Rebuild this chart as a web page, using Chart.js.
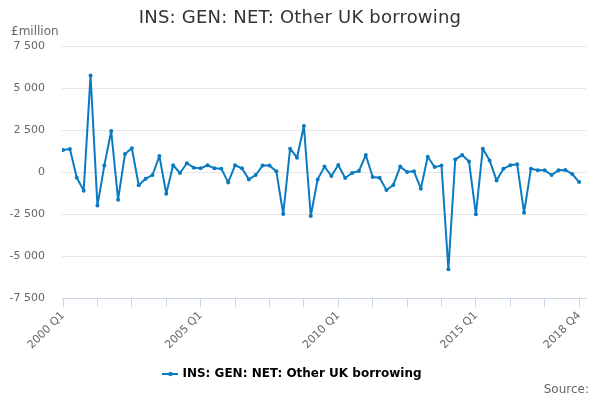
<!DOCTYPE html>
<html>
<head>
<meta charset="utf-8">
<script src="https://cdn.jsdelivr.net/npm/chart.js@4.4.1/dist/chart.umd.min.js"></script>
<style>
  html, body { margin: 0; padding: 0; background: #fff; }
</style>
</head>
<body>
<canvas id="chart" width="600" height="400"></canvas>
<script>
// quarters 2000 Q1 .. 2018 Q4
const years = [2000, 2001, 2002, 2003, 2004, 2005, 2006, 2007, 2008, 2009,
               2010, 2011, 2012, 2013, 2014, 2015, 2016, 2017, 2018];
const quarters = [];
years.forEach(y => { for (let q = 1; q <= 4; q++) quarters.push(y + ' Q' + q); });

// £million
const borrowing = [
    1310, 1370, -340, -1110,
    5750, -2000, 380, 2440,
    -1650, 1070, 1410, -790,
    -400, -180, 950, -1290,
    400, -60, 520, 260,
    220, 400, 220, 200,
    -620, 400, 220, -440,
    -180, 380, 380, 40,
    -2500, 1390, 850, 2740,
    -2620, -440, 320, -240,
    420, -360, -60, 60,
    1010, -300, -340, -1070,
    -770, 320, 0, 40,
    -990, 910, 300, 380,
    -5790, 750, 1010, 620,
    -2520, 1390, 680, -500,
    200, 400, 460, -2420,
    200, 100, 100, -180,
    100, 120, -120, -600
];

const xTickIndex = [0, 5, 10, 15, 20, 25, 30, 35, 40, 45, 50, 55, 60, 65, 70, 75];
const xLabelIndex = [0, 20, 40, 60, 75];
const yTicks = [-7500, -5000, -2500, 0, 2500, 5000, 7500];

const chartTitle = 'INS: GEN: NET: Other UK borrowing';
const lineColour = '#0a7bc2';
const fontFamily = "'DejaVu Sans', sans-serif";

function fmt(v) {
    let s = Math.abs(v).toString().replace(/\B(?=(\d{3})+(?!\d))/g, ' ');
    return (v < 0 ? '-' : '') + s;
}

// little line+dot symbol for the legend
function legendSymbol() {
    let c = document.createElement('canvas');
    c.width = 16; c.height = 8;
    let g = c.getContext('2d');
    g.strokeStyle = lineColour;
    g.lineWidth = 2;
    g.beginPath(); g.moveTo(0, 4); g.lineTo(16, 4); g.stroke();
    g.fillStyle = lineColour;
    g.beginPath(); g.arc(8, 4, 2.2, 0, Math.PI * 2); g.fill();
    return c;
}

// title, unit label and source
const extraText = {
    id: 'extraText',
    afterDraw(chart) {
        let ctx = chart.ctx;
        ctx.save();
        ctx.fillStyle = '#333';
        ctx.font = '18px ' + fontFamily;
        ctx.letterSpacing = '0.2px';
        ctx.textAlign = 'center';
        ctx.textBaseline = 'middle';
        ctx.fillText(chartTitle, 300, 18);
        ctx.letterSpacing = '0px';
        ctx.font = '12px ' + fontFamily;
        ctx.fillStyle = '#666';
        ctx.textAlign = 'left';
        ctx.fillText('£million', 11, 32);
        ctx.textAlign = 'right';
        ctx.fillText('Source:', 589, 390);
        ctx.restore();
    }
};

let ctx = document.getElementById('chart').getContext('2d');
let chart = new Chart(ctx, {
    type: 'line',
    data: {
        datasets: [{
            label: chartTitle,
            data: borrowing.map((v, i) => ({ x: i, y: v })),
            borderColor: lineColour,
            backgroundColor: lineColour,
            borderWidth: 2,
            borderJoinStyle: 'round',
            borderCapStyle: 'round',
            pointRadius: 2,
            pointBorderWidth: 0,
            pointHoverRadius: 3,
            tension: 0
        }]
    },
    options: {
        responsive: false,
        animation: false,
        layout: { padding: { left: 0, right: 14, top: 46, bottom: 10 } },
        plugins: {
            title: { display: false },
            legend: {
                position: 'bottom',
                labels: {
                    color: '#333',
                    font: { family: fontFamily, size: 12, weight: 'bold' },
                    usePointStyle: true,
                    padding: 8,
                    generateLabels: (c) => [{
                        text: c.data.datasets[0].label,
                        pointStyle: legendSymbol(),
                        fillStyle: lineColour,
                        strokeStyle: lineColour,
                        datasetIndex: 0
                    }]
                }
            },
            tooltip: { enabled: false }
        },
        scales: {
            x: {
                type: 'linear',
                min: -0.15,
                max: 76,
                afterBuildTicks: (s) => { s.ticks = xTickIndex.map(v => ({ value: v })); },
                afterFit: (s) => { s.height = 62; },
                grid: {
                    drawOnChartArea: false,
                    drawTicks: true,
                    tickLength: 9,
                    color: '#ccd6eb'
                },
                border: { display: true, color: '#ccd6eb', width: 1 },
                ticks: {
                    autoSkip: false,
                    maxRotation: 45,
                    minRotation: 45,
                    padding: 2,
                    color: '#666',
                    font: { family: fontFamily, size: 11 },
                    callback: (v) => xLabelIndex.includes(v) ? quarters[v] : ''
                }
            },
            y: {
                min: -7500,
                max: 7500,
                afterBuildTicks: (s) => { s.ticks = yTicks.map(v => ({ value: v })); },
                afterFit: (s) => { s.width = 62; },
                grid: { color: '#e6e6e6', drawTicks: false },
                border: { display: false },
                ticks: {
                    padding: 17,
                    color: '#666',
                    font: { family: fontFamily, size: 11 },
                    callback: (v) => fmt(v)
                }
            }
        }
    },
    plugins: [extraText]
});
</script>
</body>
</html>
